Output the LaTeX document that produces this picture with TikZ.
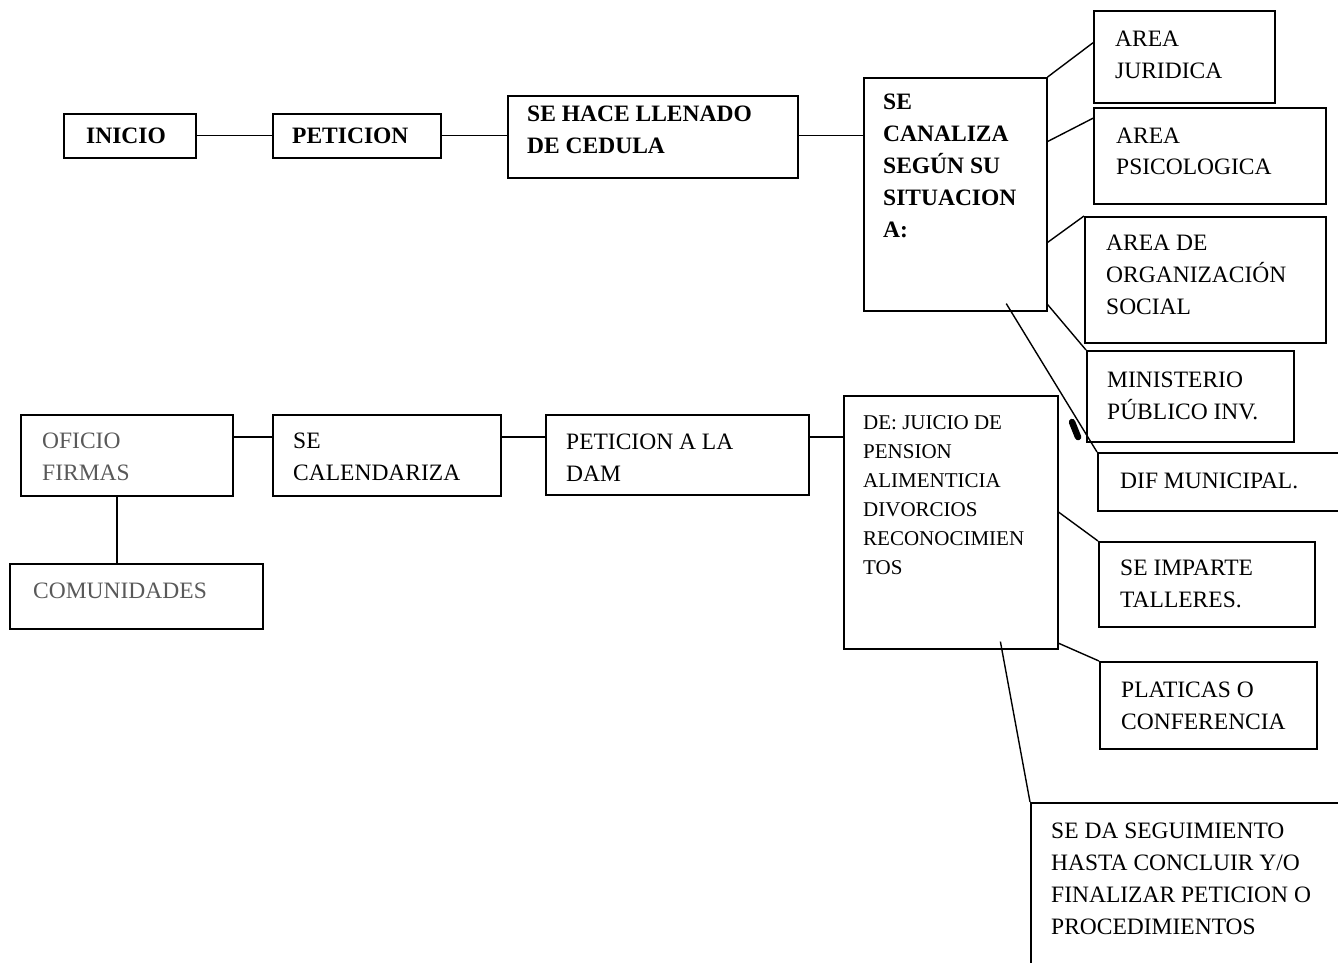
\documentclass[tikz,border=0pt]{standalone}
\usepackage{fontspec}
\setmainfont{Liberation Serif}
\usetikzlibrary{calc}

% stacked lines whose first baseline is the node's base
\newcommand\stack[1]{\begin{tabular}[t]{@{}l@{}}#1\end{tabular}}

\begin{document}
\begin{tikzpicture}[x=1pt,y=-1pt,
  box/.style={draw, line width=1.6pt, rectangle, inner sep=0pt, anchor=north west},
  boldtxt/.style={anchor=base west, inner sep=0pt,
    font=\fontsize{23.5}{32}\selectfont\bfseries},
  txt/.style={anchor=base west, inner sep=0pt,
    font=\fontsize{23.5}{32}\selectfont},
  smalltxt/.style={txt, font=\fontsize{21}{29}\selectfont},
  faint/.style={text=black!65},
  link/.style={line width=1.4pt}]
\useasboundingbox (0,0) rectangle (1338,963);
\clip (0,0) rectangle (1338,963);

% boxes: name, left, top, width, height
\newcommand\mkbox[5]{\node[box, minimum width=#4pt, minimum height=#5pt] (#1) at (#2,#3) {};}
\mkbox{inicio}{63}{113}{132}{44}
\mkbox{peticion}{272}{113}{168}{44}
\mkbox{llenado}{507}{95}{290}{82}
\mkbox{canaliza}{863}{77}{183}{233}
\mkbox{juridica}{1093}{10}{181}{92}
\mkbox{psico}{1093}{107}{232}{96}
\mkbox{organiza}{1084}{216}{241}{126}
\mkbox{ministerio}{1086}{350}{207}{91}
\mkbox{dif}{1097}{452}{260}{58}
\mkbox{talleres}{1098}{541}{216}{85}
\mkbox{platicas}{1099}{661}{217}{87}
\mkbox{seguimiento}{1030}{802}{340}{200}
\mkbox{juicio}{843}{395}{214}{253}
\mkbox{dam}{545}{414}{263}{80}
\mkbox{calendariza}{272}{414}{228}{81}
\mkbox{oficio}{20}{414}{212}{81}
\mkbox{comunidades}{9}{563}{253}{65}

% texts
\node[boldtxt] (t-inicio) at (86,143) {INICIO};
\node[boldtxt] (t-peticion) at (292,143) {PETICION};
\node[boldtxt] (t-llenado) at (527,122) {\stack{SE HACE LLENADO\\DE CEDULA}};
\node[boldtxt] (t-canaliza) at (883,110) {\stack{SE\\CANALIZA\\SEGÚN SU\\SITUACION\\A:}};
\node[txt] (t-juridica) at (1115,47) {\stack{AREA\\JURIDICA}};
\node[txt] (t-psico) at (1116,143) {\stack{AREA\\PSICOLOGICA}};
\node[txt] (t-organiza) at (1106,250) {\stack{AREA DE\\ORGANIZACIÓN\\SOCIAL}};
\node[txt] (t-ministerio) at (1107,387) {\stack{MINISTERIO\\PÚBLICO INV.}};
\node[txt] (t-dif) at (1120,488) {DIF MUNICIPAL.};
\node[txt] (t-talleres) at (1120,575) {\stack{SE IMPARTE\\TALLERES.}};
\node[txt] (t-platicas) at (1121,697) {\stack{PLATICAS O\\CONFERENCIA}};
\node[txt] (t-seguimiento) at (1051,838) {\stack{SE DA SEGUIMIENTO\\HASTA CONCLUIR Y/O\\FINALIZAR PETICION O\\PROCEDIMIENTOS}};
\node[smalltxt] (t-juicio) at (863,429) {\stack{DE: JUICIO DE\\PENSION\\ALIMENTICIA\\DIVORCIOS\\RECONOCIMIEN\\TOS}};
\node[txt] (t-dam) at (566,449) {\stack{PETICION A LA\\DAM}};
\node[txt] (t-calendariza) at (293,448) {\stack{SE\\CALENDARIZA}};
\node[txt, faint] (t-oficio) at (42,448) {\stack{OFICIO\\FIRMAS}};
\node[txt, faint] (t-comunidades) at (33,598) {COMUNIDADES};

% top row
\draw[link] (inicio.east) -- (peticion.west);
\draw[link] (peticion.east) -- (llenado.west |- peticion.east);
\draw[link] (llenado.east |- peticion.east) -- (canaliza.west |- peticion.east);

% branches of the canalization box
\draw[link] (canaliza.north east) -- ($(juridica.north west)!0.35!(juridica.south west)$);
\draw[link] ($(canaliza.north east)!0.275!(canaliza.south east)$) -- ($(psico.north west)!0.115!(psico.south west)$);
\draw[link] ($(canaliza.north east)!0.705!(canaliza.south east)$) -- (organiza.north west);
\draw[link] ($(canaliza.north east)!0.97!(canaliza.south east)$) -- (ministerio.north west);
\draw[link] ($(canaliza.south west)!0.776!(canaliza.south east)+(0,-8)$) -- (dif.north west);
\draw[line width=6.5pt, line cap=round] (1072,422) -- (1078,437);

% lower row
\coordinate (row2) at (0,437);
\draw[link] (oficio.east |- row2) -- (calendariza.west |- row2);
\draw[link] (calendariza.east |- row2) -- (dam.west |- row2);
\draw[link] (dam.east |- row2) -- (juicio.west |- row2);
\draw[link] (oficio.south west -| 117,0) -- (comunidades.north west -| 117,0);

% branches of the proceedings box
\draw[link] ($(juicio.north east)!0.46!(juicio.south east)$) -- (talleres.north west);
\draw[link] ($(juicio.north east)!0.975!(juicio.south east)$) -- (platicas.north west);
\draw[link] ($(juicio.south west)!0.73!(juicio.south east)+(0,-8)$) -- (seguimiento.north west);
\end{tikzpicture}
\end{document}
